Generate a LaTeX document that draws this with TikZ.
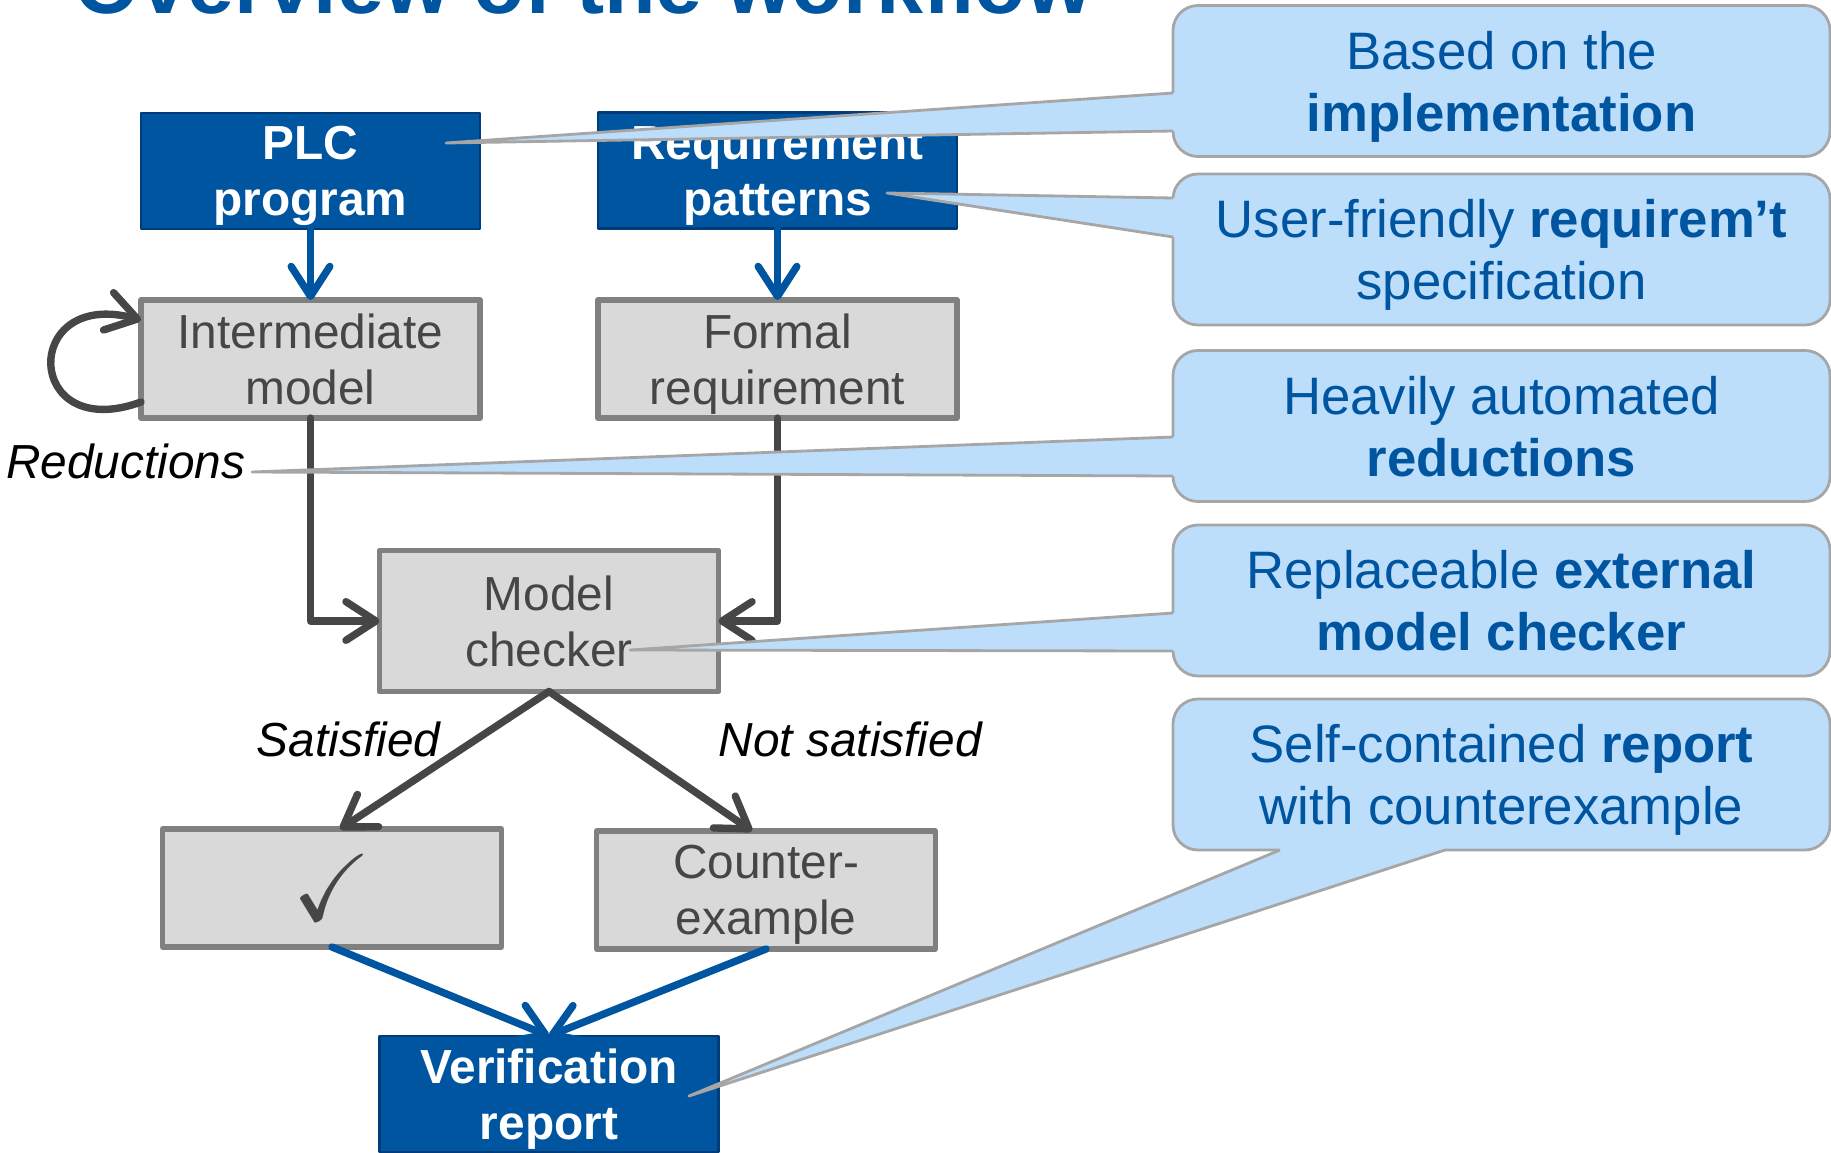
\documentclass[tikz,border=0pt]{standalone}
\usepackage{fontspec}
\usepackage{amssymb}
\setmainfont{Liberation Sans}
\usetikzlibrary{positioning,arrows.meta}
\definecolor{plcblue}{RGB}{0,85,160}
\definecolor{plcdark}{RGB}{0,60,120}
\definecolor{boxgray}{RGB}{217,217,217}
\definecolor{boxedge}{RGB}{128,128,128}
\definecolor{linegray}{RGB}{70,70,70}
\definecolor{noteblue}{RGB}{189,222,251}
\definecolor{noteedge}{RGB}{166,166,166}

\begin{document}
\begin{tikzpicture}[line join=round,
  prog/.style={rectangle, draw=plcdark, line width=0.8pt, fill=plcblue,
    text=white, font=\fontsize{13.6}{15.9}\selectfont\bfseries, align=center,
    minimum width=3.39cm, minimum height=1.16cm, inner sep=0pt, outer sep=0pt,
    text depth=0pt},
  model/.style={rectangle, draw=boxedge, line width=1.5pt, fill=boxgray,
    text=linegray, font=\fontsize{13.6}{15.9}\selectfont, align=center,
    minimum width=3.39cm, minimum height=1.18cm, inner sep=0pt, outer sep=0pt,
    text depth=0pt},
  lbl/.style={inner sep=0pt, font=\fontsize{13.6}{15.9}\selectfont\itshape},
  note/.style={rectangle, rounded corners=0.25cm, draw=noteedge, line width=0.8pt,
    fill=noteblue, text=plcblue, font=\fontsize{15}{17.6}\selectfont, align=center,
    minimum width=6.57cm, minimum height=1.51cm, inner sep=0pt, outer sep=0pt,
    text depth=0pt},
  flow/.style={draw=plcblue, line width=2.1pt, line cap=round,
    -{Straight Barb[round,length=8.5pt,width=11pt]}},
  link/.style={draw=linegray, line width=2.1pt, line cap=round,
    -{Straight Barb[round,length=8.5pt,width=11pt]}}]
  \useasboundingbox (0,0) rectangle (18.31,-11.52);
  % title, cut off at the top
  \node[anchor=base west, inner sep=0pt, text=plcblue,
    font=\fontsize{24}{28}\selectfont\bfseries] (title) at (0.74,-0.14) {Overview of the workflow};
  % inputs
  \node[prog] (plc) at (3.105,-1.71) {PLC\\program};
  \node[prog, minimum width=3.59cm] (req) at (7.775,-1.705) {Requirement\\patterns};
  % models
  \node[model] (im) at (3.105,-3.59) {Intermediate\\model};
  \node[model, minimum width=3.59cm] (fr) at (7.775,-3.59) {Formal\\requirement};
  \node[model, minimum height=1.41cm] (mc) at (5.49,-6.21) {Model\\checker};
  % results
  \node[model] (chk) at (3.32,-8.88) {\fontsize{27}{30}\selectfont$\checkmark$};
  \node[model] (cex) at (7.66,-8.90) {Counter-\\example};
  \node[prog] (vr) at (5.49,-10.94) {Verification\\report};
  % labels
  \node[lbl, anchor=base east] (red) at (2.46,-4.78) {Reductions};
  \node[lbl, anchor=base east] (sat) at (4.41,-7.56) {Satisfied};
  \node[lbl, anchor=base west] (nsat) at (7.18,-7.56) {Not satisfied};

  \draw[flow] (plc) -- (im);
  \draw[flow] (req) -- (fr);
  \draw[link] ([yshift=-0.43cm]im.west) .. controls +(200:1.25) and +(165:1.25) .. ([yshift=0.39cm]im.west);
  \draw[link] (im.south) |- (mc.west);
  \draw[link] (fr.south) |- (mc.east);
  \draw[link] (mc.south) -- ([xshift=0.08cm]chk.north);
  \draw[link] (mc.south) -- ([xshift=-0.14cm]cex.north);
  \draw[flow] (chk.south) -- (vr.north);
  \draw[flow] (cex.south) -- (vr.north);

  % callouts
  \node[note] (n1) at (15.015,-0.81) {Based on the\\\textbf{implementation}};
  \node[note] (n2) at (15.015,-2.495) {User-friendly \textbf{requirem’t}\\specification};
  \node[note] (n3) at (15.015,-4.26) {Heavily automated\\\textbf{reductions}};
  \node[note] (n4) at (15.015,-6.005) {Replaceable \textbf{external}\\\textbf{model checker}};
  \node[note] (n5) at (15.015,-7.745) {Self-contained \textbf{report}\\with counterexample};
  \coordinate (t1) at (4.46,-1.43);
  \coordinate (t2) at (8.87,-1.93);
  \coordinate (t3) at (2.52,-4.72);
  \coordinate (t4) at (6.30,-6.50);
  \coordinate (t5) at (6.89,-10.96);
  \foreach \nt/\tp/\ya/\yb in {n1/t1/-0.12/-0.50, n2/t2/0.515/0.125, n3/t3/-0.11/-0.50, n4/t4/-0.125/-0.505}
  {
    \fill[noteblue] ([yshift=\ya cm]\nt.west) -- (\tp) -- ([yshift=\yb cm]\nt.west)
      -- ([shift={(0.06,\yb)}]\nt.west) -- ([shift={(0.06,\ya)}]\nt.west) -- cycle;
    \draw[noteedge, line width=0.8pt] ([yshift=\ya cm]\nt.west) -- (\tp) -- ([yshift=\yb cm]\nt.west);
  }
  \fill[noteblue] ([xshift=-2.215cm]n5.south) -- (t5) -- ([xshift=-0.565cm]n5.south)
    -- ([shift={(-0.565,0.06)}]n5.south) -- ([shift={(-2.215,0.06)}]n5.south) -- cycle;
  \draw[noteedge, line width=0.8pt] ([xshift=-2.215cm]n5.south) -- (t5) -- ([xshift=-0.565cm]n5.south);
\end{tikzpicture}
\end{document}
